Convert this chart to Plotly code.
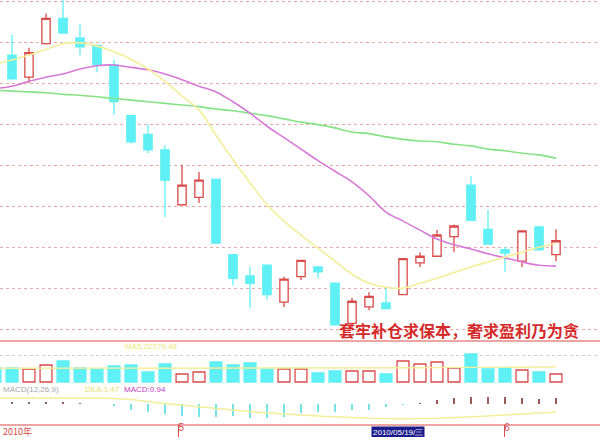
import plotly.graph_objects as go

# ---------------- data ----------------
idx = list(range(34))

opens = [13.78, 13.35, 13.08, 13.49, 13.80, 13.56, 13.47, 13.23, 12.61, 12.38,
         12.19, 11.52, 11.61, 11.83, 10.91, 10.65, 10.78, 10.33, 10.64, 10.76,
         10.56, 10.07, 10.27, 10.32, 10.42, 10.81, 10.89, 11.13, 11.76, 11.22,
         10.97, 10.83, 11.25, 10.91]
highs = [13.88, 13.60, 13.44, 13.86, 14.10, 13.72, 13.48, 13.29, 12.62, 12.50,
         12.25, 12.01, 11.92, 11.83, 10.91, 10.76, 10.78, 10.64, 10.84, 10.76,
         10.56, 10.38, 10.45, 10.50, 10.86, 10.94, 11.21, 11.28, 11.87, 11.46,
         11.00, 11.20, 11.25, 11.22]
lows = [13.45, 13.05, 13.01, 13.48, 13.62, 13.35, 13.14, 12.62, 12.27, 12.15,
        11.37, 11.52, 11.54, 11.05, 10.54, 10.26, 10.36, 10.27, 10.60, 10.62,
        10.05, 10.02, 10.23, 10.25, 10.42, 10.76, 10.89, 10.94, 11.33, 11.04,
        10.70, 10.76, 10.97, 10.83]
closes = [13.50, 13.06, 13.38, 13.80, 13.62, 13.45, 13.23, 12.78, 12.29, 12.19,
          11.82, 11.76, 11.82, 11.05, 10.62, 10.56, 10.42, 10.61, 10.84, 10.70,
          10.05, 10.34, 10.40, 10.25, 10.86, 10.89, 11.15, 11.26, 11.33, 11.04,
          10.93, 11.20, 10.97, 11.08]

ma5 = [13.24, 13.29, 13.35, 13.42, 13.49, 13.50, 13.46, 13.39, 13.30, 13.18,
       13.03, 12.85, 12.68, 12.37, 12.07, 11.79, 11.52, 11.32, 11.15, 10.99,
       10.83, 10.67, 10.56, 10.51, 10.50, 10.56, 10.62, 10.69, 10.76, 10.82,
       10.88, 10.94, 11.00, 11.05]
ma10 = [12.94, 12.97, 13.03, 13.08, 13.12, 13.18, 13.22, 13.23, 13.20, 13.17,
        13.12, 13.05, 12.97, 12.90, 12.78, 12.64, 12.48, 12.34, 12.20, 12.06,
        11.93, 11.80, 11.63, 11.43, 11.32, 11.21, 11.10, 11.03, 10.98, 10.92,
        10.87, 10.82, 10.78, 10.77]
ma30 = [12.92, 12.91, 12.90, 12.89, 12.87, 12.86, 12.84, 12.82, 12.80, 12.78,
        12.76, 12.74, 12.72, 12.69, 12.67, 12.64, 12.61, 12.57, 12.53, 12.50,
        12.46, 12.41, 12.39, 12.35, 12.32, 12.30, 12.29, 12.26, 12.24, 12.20,
        12.18, 12.15, 12.13, 12.09]

volume = [14000, 14000, 13000, 17000, 21000, 14000, 13000, 16000, 17000, 10000,
          18000, 8000, 10000, 20000, 17000, 19000, 13000, 13000, 13000, 9000,
          11000, 11000, 11000, 8000, 21000, 18000, 20000, 14000, 28000, 13000,
          14000, 12000, 10000, 8000]
vol_ma5 = [13800, 13900, 13900, 14000, 14100, 14100, 14000, 14000, 13900, 13800,
           13800, 13700, 13700, 13800, 13900, 13900, 13800, 13700, 13600, 13500,
           13500, 13600, 13700, 13800, 14000, 14200, 14400, 14600, 14800, 14900,
           15000, 15000, 15000, 15000]

macd_hist = [0.05, 0.08, 0.08, 0.08, 0.08, 0.04, -0.02, -0.12, -0.30, -0.40,
             -0.50, -0.60, -0.65, -0.65, -0.62, -0.70, -0.70, -0.65, -0.45, -0.38,
             -0.38, -0.32, -0.28, -0.15, -0.03, 0.04, 0.20, 0.28, 0.35, 0.35,
             0.33, 0.30, 0.27, 0.30]
dea = [0.30, 0.30, 0.30, 0.30, 0.30, 0.30, 0.30, 0.28, 0.22, 0.12,
       0.02, -0.06, -0.14, -0.22, -0.30, -0.38, -0.44, -0.50, -0.55, -0.60,
       -0.64, -0.68, -0.71, -0.73, -0.74, -0.73, -0.71, -0.68, -0.64, -0.60,
       -0.55, -0.50, -0.45, -0.40]

price_grid = [10.0, 10.5, 11.0, 11.5, 12.0, 12.5, 13.0, 13.5, 14.0]
month_ticks = [10.8, 29.95]
month_labels = ["5", "6"]
year_label = "2010年"
cursor_idx = 22
cursor_label = "2010/05/19/三"
title_text = "套牢补仓求保本，奢求盈利乃为贪"

# ---------------- style ----------------
W, H = 600, 437
RED = "#d94a4a"
CYAN = "#5ef0f4"
YEL = "#f4ee9a"
MAG = "#d77ad7"
GRN = "#86e286"


def py(px):
    return 1 - px / H


fig = go.Figure()

fig.add_trace(go.Candlestick(
    x=idx, open=opens, high=highs, low=lows, close=closes,
    xaxis="x", yaxis="y", whiskerwidth=0,
    increasing=dict(line=dict(color=RED, width=1.3), fillcolor="white"),
    decreasing=dict(line=dict(color=CYAN, width=1.3), fillcolor=CYAN),
    showlegend=False, hoverinfo="skip"))

for ma, col in [(ma30, GRN), (ma10, MAG), (ma5, YEL)]:
    fig.add_trace(go.Scatter(x=idx, y=ma, mode="lines", xaxis="x", yaxis="y",
                             line=dict(color=col, width=1.6, shape="spline"),
                             showlegend=False, hoverinfo="skip"))

up = [c >= o for o, c in zip(opens, closes)]
fig.add_trace(go.Bar(
    x=idx, y=volume, xaxis="x2", yaxis="y2", width=0.7,
    marker=dict(color=["white" if u else CYAN for u in up],
                line=dict(color=[RED if u else CYAN for u in up], width=1.3)),
    showlegend=False, hoverinfo="skip"))
fig.add_trace(go.Scatter(x=idx, y=vol_ma5, mode="lines", xaxis="x2", yaxis="y2",
                         line=dict(color=YEL, width=1.4), showlegend=False,
                         hoverinfo="skip"))

fig.add_trace(go.Bar(
    x=idx, y=macd_hist, xaxis="x3", yaxis="y3", width=0.08,
    marker=dict(color=["#9a5a5a" if v >= 0 else "#74e2e6" for v in macd_hist],
                line=dict(width=0)),
    showlegend=False, hoverinfo="skip"))
fig.add_trace(go.Scatter(x=idx, y=dea, mode="lines", xaxis="x3", yaxis="y3",
                         line=dict(color=YEL, width=1.5, shape="spline"),
                         showlegend=False, hoverinfo="skip"))

# empty trace so that the date strip axis is drawn
fig.add_trace(go.Scatter(x=[], y=[], xaxis="x4", yaxis="y4", showlegend=False,
                         hoverinfo="skip"))

xr = [5 / 17, 605 / 17]
hide = dict(showticklabels=False, showgrid=False, zeroline=False, ticks="")

fig.update_layout(
    width=W, height=H, margin=dict(l=0, r=0, t=0, b=0),
    paper_bgcolor="white", plot_bgcolor="white", bargap=0,
    xaxis=dict(domain=[0, 1], range=xr, anchor="y",
               rangeslider=dict(visible=False), **hide),
    yaxis=dict(domain=[py(340), 1], range=[9.866, 14.024], tickvals=price_grid,
               showticklabels=False, zeroline=False, showgrid=True,
               gridcolor="#e9a9a9", griddash="dot", gridwidth=1),
    xaxis2=dict(matches="x", anchor="y2", **hide),
    yaxis2=dict(domain=[py(383), py(341)], range=[-1000, 41000], tickvals=[27000],
                showticklabels=False, zeroline=False, showgrid=True,
                gridcolor="#cccccc", griddash="dot"),
    xaxis3=dict(matches="x", anchor="y3", **hide),
    yaxis3=dict(domain=[py(425), py(383)], range=[-1.05, 1.05], **hide),
    xaxis4=dict(matches="x", anchor="y4", tickvals=month_ticks, ticktext=month_labels,
                showgrid=True, gridcolor=RED, gridwidth=1, zeroline=False, ticks="",
                ticklabelposition="inside right", ticklabelstandoff=-2,
                tickfont=dict(color=RED, size=10, family="Liberation Sans")),
    yaxis4=dict(domain=[0, py(425)], range=[0, 1], **hide),
)

shapes = []
for ypx in [341, 425]:
    shapes.append(dict(type="line", xref="paper", yref="paper", x0=0, x1=1,
                       y0=py(ypx), y1=py(ypx), line=dict(color="#e04a4a", width=1.2)))
fig.update_layout(shapes=shapes)

ann = [
    dict(text="<b>" + title_text + "</b>", x=337 / W, y=py(330), xanchor="left",
         font=dict(color="#d42a2a", size=16, family="Noto Sans CJK SC")),
    dict(text="MA5:22279.48", x=123 / W, y=py(346), xanchor="left",
         font=dict(color="#ece67a", size=8, family="Liberation Sans")),
    dict(text="MACD(12,26,9)", x=1 / W, y=py(389), xanchor="left",
         font=dict(color="#a8a8a8", size=8, family="Liberation Sans")),
    dict(text="DEA:1.47", x=83 / W, y=py(389), xanchor="left",
         font=dict(color="#e8e070", size=8, family="Liberation Sans")),
    dict(text="MACD:0.94", x=122 / W, y=py(389), xanchor="left",
         font=dict(color="#c040c0", size=8, family="Liberation Sans")),
    dict(text=year_label, x=1 / W, y=py(431), xanchor="left",
         font=dict(color=RED, size=9, family="Noto Sans CJK SC")),
]
for a in ann:
    a.update(xref="paper", yref="paper", showarrow=False, yanchor="middle")
ann.append(dict(text=cursor_label, x=cursor_idx + 0.1, xref="x", y=py(432), yref="paper",
                xanchor="left", yanchor="middle", showarrow=False, bgcolor="#1c1c8c",
                borderpad=1, font=dict(color="white", size=8, family="Liberation Sans")))
fig.update_layout(annotations=ann)

fig.write_html("out.html",
               config={"displayModeBar": False, "staticPlot": True},
               post_script="document.body.style.margin='0px';"
                           "document.body.style.overflow='hidden';")
